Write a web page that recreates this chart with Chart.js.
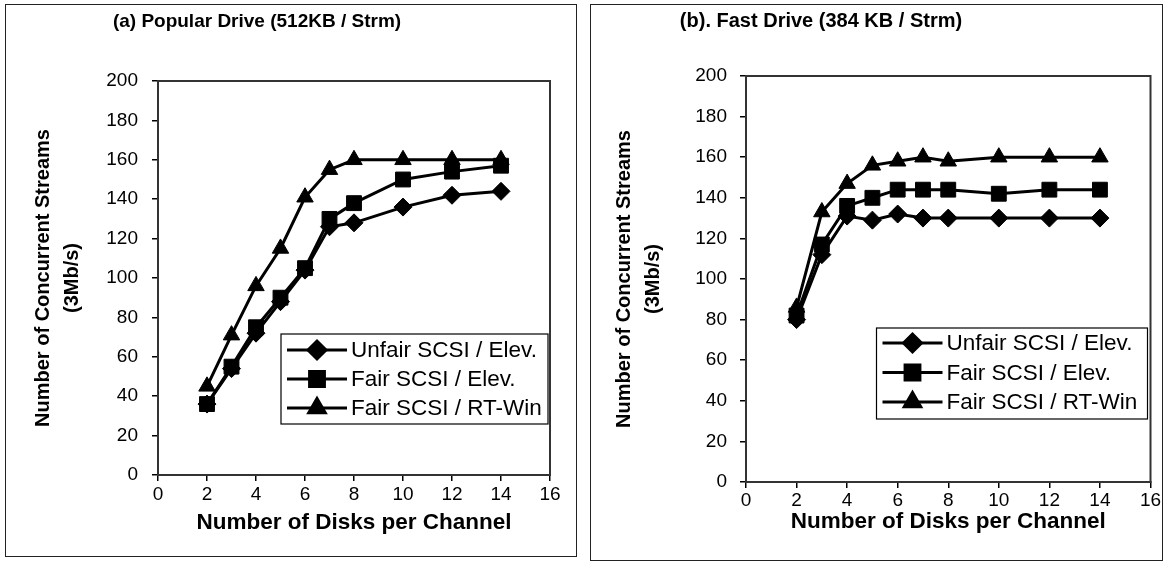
<!DOCTYPE html>
<html>
<head>
<meta charset="utf-8">
<title>Concurrent Streams vs Disks per Channel</title>
<script src="https://cdn.jsdelivr.net/npm/chart.js@4.4.0/dist/chart.umd.min.js"></script>
<style>
    body { margin: 0; background: #fff; width: 1165px; height: 562px; position: relative; overflow: hidden; }
    .panel { position: absolute; border: 1px solid #222; background: #fff; }
    .panel canvas { position: absolute; left: 0; top: 0; }
</style>
</head>
<body>
<div class="panel" style="left:5px;top:4px;width:570px;height:551px;">
    <canvas id="popularChart" width="570" height="551"></canvas>
</div>
<div class="panel" style="left:590px;top:4px;width:571px;height:555px;">
    <canvas id="fastChart" width="571" height="555"></canvas>
</div>
<script>
// Data
const diskCounts = [2, 3, 4, 5, 6, 7, 8, 10, 12, 14];
const seriesLabels = ['Unfair SCSI / Elev.', 'Fair SCSI / Elev.', 'Fair SCSI / RT-Win'];

const popularUnfairElev = [36, 54, 72, 88, 104, 126, 128, 136, 142, 144];
const popularFairElev   = [36, 55, 75, 90, 105, 130, 138, 150, 154, 157];
const popularFairRtWin  = [45, 71, 96, 115, 141, 155, 160, 160, 160, 160];

const fastUnfairElev = [80, 112, 131, 129, 132, 130, 130, 130, 130, 130];
const fastFairElev   = [82, 117, 136, 140, 144, 144, 144, 142, 144, 144];
const fastFairRtWin  = [86, 133, 147, 156, 158, 160, 158, 160, 160, 160];

const xTicks = [0, 2, 4, 6, 8, 10, 12, 14, 16];
const yTicks = [0, 20, 40, 60, 80, 100, 120, 140, 160, 180, 200];

const FONT = '"Liberation Sans", Arial, Helvetica, sans-serif';
const markerStyles = ['rectRot', 'rect', 'triangle'];
const markerRadii = [9, 10.5, 9.5];

// Border around the plot area (top + right, axes draw the rest)
const frameBorder = {
    id: 'frameBorder',
    beforeDatasetsDraw(chart) {
        const { ctx, chartArea: ca } = chart;
        ctx.save();
        ctx.strokeStyle = '#333';
        ctx.lineWidth = 2;
        ctx.strokeRect(ca.left, ca.top, ca.right - ca.left, ca.bottom - ca.top);
        ctx.restore();
    }
};

// Panel heading placed like the original (not centred on the canvas)
const panelTitle = {
    id: 'panelTitle',
    afterDraw(chart, args, opts) {
        const ctx = chart.ctx;
        ctx.save();
        ctx.font = 'bold ' + opts.size + 'px ' + FONT;
        ctx.fillStyle = '#000';
        ctx.textAlign = 'center';
        ctx.textBaseline = 'alphabetic';
        ctx.fillText(opts.text, opts.x, opts.y);
        ctx.restore();
    }
};

// Boxed legend sitting inside the plot area
const boxLegend = {
    id: 'boxLegend',
    afterDraw(chart, args, opts) {
        const { ctx, chartArea: ca } = chart;
        const x0 = ca.right - opts.inset - opts.width;
        const y0 = ca.top + opts.top;
        ctx.save();
        ctx.fillStyle = '#fff';
        ctx.fillRect(x0, y0, opts.width, opts.height);
        ctx.strokeStyle = '#000';
        ctx.lineWidth = 1.2;
        ctx.strokeRect(x0, y0, opts.width, opts.height);
        ctx.font = opts.size + 'px ' + FONT;
        ctx.textBaseline = 'middle';
        chart.data.datasets.forEach((ds, i) => {
            const cy = y0 + opts.firstRow + i * opts.rowGap;
            ctx.strokeStyle = '#000';
            ctx.lineWidth = 3;
            ctx.beginPath();
            ctx.moveTo(x0 + 6, cy);
            ctx.lineTo(x0 + 66, cy);
            ctx.stroke();
            ctx.fillStyle = '#000';
            Chart.helpers.drawPoint(ctx, {
                pointStyle: ds.pointStyle, radius: ds.pointRadius, borderWidth: 1, rotation: 0
            }, x0 + 36, cy);
            ctx.fillStyle = '#000';
            ctx.fillText(ds.label, x0 + 70, cy + 1);
        });
        ctx.restore();
    }
};

function makeDatasets(series) {
    return series.map((values, i) => ({
        label: seriesLabels[i],
        data: diskCounts.map((d, j) => ({ x: d, y: values[j] })),
        borderColor: '#000',
        backgroundColor: '#000',
        borderWidth: 3,
        pointStyle: markerStyles[i],
        pointRadius: markerRadii[i],
        pointBackgroundColor: '#000',
        pointBorderColor: '#000',
        pointBorderWidth: 1,
        tension: 0,
        fill: false
    }));
}

function buildChart(canvasId, series, lay) {
    const tickFont = { family: FONT, size: 19 };
    return new Chart(document.getElementById(canvasId), {
        type: 'line',
        data: { datasets: makeDatasets(series) },
        options: {
            responsive: false,
            animation: false,
            events: [],
            layout: { padding: { top: lay.top, right: lay.right, left: 0, bottom: 0 } },
            plugins: {
                legend: { display: false },
                tooltip: { enabled: false },
                panelTitle: lay.title,
                boxLegend: lay.legend
            },
            scales: {
                x: {
                    type: 'linear',
                    min: 0,
                    max: 16,
                    afterBuildTicks: s => { s.ticks = xTicks.map(v => ({ value: v })); },
                    ticks: { color: '#000', font: tickFont, padding: lay.xTickPad, maxRotation: 0 },
                    grid: { drawOnChartArea: false, tickLength: 6, color: '#000', lineWidth: 1.5 },
                    border: { color: '#000', width: 2 },
                    title: {
                        display: true, text: 'Number of Disks per Channel', color: '#000',
                        font: { family: FONT, size: 22.5, weight: 'bold' },
                        padding: { top: 0, bottom: lay.xTitlePad }
                    },
                    afterFit: s => { s.height = lay.xHeight; s.paddingLeft = 0; s.paddingRight = 0; }
                },
                y: {
                    type: 'linear',
                    min: 0,
                    max: 200,
                    afterBuildTicks: s => { s.ticks = yTicks.map(v => ({ value: v })); },
                    ticks: { color: '#000', font: tickFont, padding: lay.yTickPad },
                    grid: { drawOnChartArea: false, tickLength: 6, color: '#000', lineWidth: 1.5 },
                    border: { color: '#000', width: 2 },
                    title: {
                        display: true, text: ['Number of Concurrent Streams', '(3Mb/s)'], color: '#000',
                        font: { family: FONT, size: 20, weight: 'bold', lineHeight: 1.45 },
                        padding: { top: lay.yTitlePad, bottom: 0 }
                    },
                    afterFit: s => { s.width = lay.yWidth; s.paddingTop = 0; s.paddingBottom = 0; }
                }
            }
        },
        plugins: [frameBorder, panelTitle, boxLegend]
    });
}

document.addEventListener('DOMContentLoaded', function() {
    buildChart('popularChart', [popularUnfairElev, popularFairElev, popularFairRtWin], {
        top: 76, right: 26, yWidth: 152, xHeight: 81,
        xTickPad: 2, yTickPad: 14, xTitlePad: 20, yTitlePad: 23,
        title: { text: '(a) Popular Drive (512KB / Strm)', x: 251, y: 22, size: 19 },
        legend: { inset: 2, width: 267, top: 253, height: 90, firstRow: 16, rowGap: 29, size: 22.5 }
    });
    buildChart('fastChart', [fastUnfairElev, fastFairElev, fastFairRtWin], {
        top: 71, right: 10, yWidth: 155, xHeight: 78,
        xTickPad: 1, yTickPad: 13, xTitlePad: 25, yTitlePad: 19,
        title: { text: '(b). Fast Drive (384 KB / Strm)', x: 230, y: 22, size: 20 },
        legend: { inset: 3, width: 271, top: 252, height: 91, firstRow: 15, rowGap: 29.5, size: 22.5 }
    });
});
</script>
</body>
</html>
